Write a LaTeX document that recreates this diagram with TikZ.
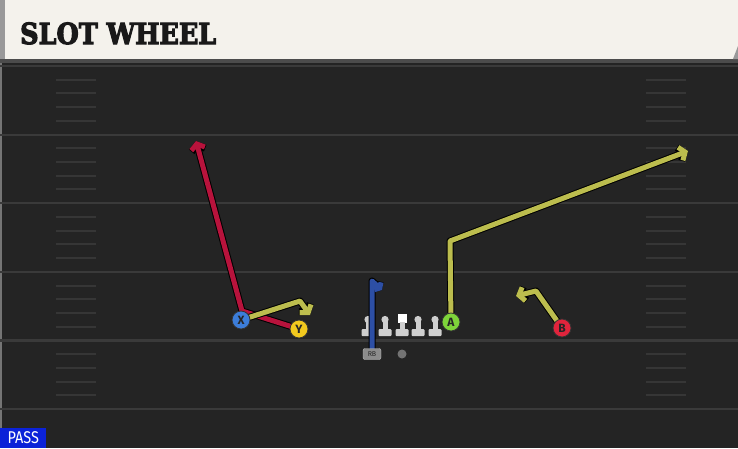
\documentclass[tikz,border=0pt]{standalone}
\usepackage{fontspec}
\setmainfont{Fira Sans}
\newfontfamily\titlefont{DejaVu Serif}[UprightFont={* Bold},UprightFeatures={FakeBold=4}]
\usetikzlibrary{arrows.meta}
\definecolor{field}{HTML}{242424}
\definecolor{paper}{HTML}{F4F2EC}
\definecolor{yardgrey}{HTML}{3A3A3A}
\definecolor{hashgrey}{HTML}{363636}
\definecolor{rtred}{HTML}{B8133C}
\definecolor{rtyel}{HTML}{BCBD4E}
\definecolor{rtblue}{HTML}{2D4FA5}
\definecolor{pblue}{HTML}{3C7DD9}
\definecolor{pyel}{HTML}{F2C91E}
\definecolor{pgreen}{HTML}{7ED43A}
\definecolor{pred}{HTML}{E0243C}
\definecolor{passblue}{HTML}{0B22D8}
\definecolor{lineman}{HTML}{CFCFCF}

\begin{document}
\begin{tikzpicture}[x=1pt,y=-1pt,
  yard/.style={draw=yardgrey,line width=2.2pt},
  hash/.style={draw=hashgrey,line width=2pt},
  route/.style={line width=5pt,line join=round,-{Straight Barb[length=5pt,width=14pt]},
    preaction={draw=black,line join=round,line width=7pt}},
  player/.style={draw=black!80,line width=0.8pt,circle,minimum size=18pt,inner sep=0pt,
    font=\bfseries\fontsize{12}{12}\selectfont,text=black!85}]
  \useasboundingbox (0,0) rectangle (738,448);
  % field and title bar
  \fill[field] (0,0) rectangle (738,448);
  \draw[yardgrey!70,line width=1.5pt] (1,63) -- (1,448);
  \fill[black!70] (0,59) rectangle (738,63);
  \fill[paper] (0,0) rectangle (738,59);
  \fill[black!40] (0,0) rectangle (5,59);
  \fill[black!40] (738,46) -- (738,59) -- (733,59) -- cycle;
  \node[anchor=base west,inner sep=0pt,text=black!90,xscale=0.88,
    font=\titlefont\fontsize{29}{29}\selectfont] (title) at (20,44) {SLOT WHEEL};
  % yard lines and hashes
  \foreach \k in {0,...,5}
    \draw[yard] (0,{66+68.6*\k}) -- (738,{66+68.6*\k});
  \foreach \k in {0,...,4}
    \foreach \j in {1,...,4} {
      \draw[hash] (56,{66+68.6*\k+13.72*\j}) -- (96,{66+68.6*\k+13.72*\j});
      \draw[hash] (646,{66+68.6*\k+13.72*\j}) -- (686,{66+68.6*\k+13.72*\j});
    }
  % line
  \foreach \x in {368,385,418,435} {
    \fill[lineman] (\x,319.5) circle (3.6);
    \fill[lineman] (\x-2.5,320) rectangle (\x+2.5,331);
    \fill[lineman,rounded corners=1] (\x-6.5,329) rectangle (\x+6.5,336);
  }
  \fill[white] (397.5,313.5) rectangle (406.5,322.5);
  \fill[lineman] (399.5,322) rectangle (404.5,331);
  \fill[lineman,rounded corners=1] (395.5,329) rectangle (408.5,336);
  % players
  \coordinate (X) at (241,320);
  \coordinate (Y) at (299,329);
  \coordinate (A) at (451,322);
  \coordinate (B) at (562,328);
  \coordinate (RB) at (372,354);
  \coordinate (xc) at (300,301);  \coordinate (xt) at (310,315);
  \coordinate (yc) at (242,311);  \coordinate (yt) at (196,141);
  \coordinate (ac) at (450,241);  \coordinate (at) at (688,151);
  \coordinate (bc) at (536,291);  \coordinate (bt) at (516,296);
  \coordinate (rc) at (372,281);  \coordinate (rt) at (382,290);
  % routes
  \draw[route,rtred] (Y) -- (yc) -- (yt);
  \draw[route,rtyel] (X) -- (xc) -- (xt);
  \draw[route,rtyel] (A) -- (ac) -- (at);
  \draw[route,rtyel] (B) -- (bc) -- (bt);
  \draw[route,rtblue,-{Straight Barb[length=3pt,width=10pt]}] (RB) -- (rc) -- (rt);
  \node[player,fill=pblue] (x) at (X) {X};
  \node[player,fill=pyel] (y) at (Y) {Y};
  \node[player,fill=pgreen] (a) at (A) {A};
  \node[player,fill=pred] (b) at (B) {B};
  \node[draw=black!25,fill=black!45,rounded corners=2pt,minimum width=18pt,minimum height=11pt,
    inner sep=0pt,text=black!85,font=\fontsize{7}{7}\selectfont] (rb) at (RB) {RB};
  \node[circle,fill=black!55,minimum size=9pt,inner sep=0pt] (qb) at (402,354) {};
  % play type
  \node[anchor=south west,fill=passblue,text=white,inner sep=0pt,minimum width=46pt,minimum height=20pt,
    font=\fontsize{17}{17}\selectfont] (pass) at (0,448) {\scalebox{0.85}[1]{PASS}};
\end{tikzpicture}
\end{document}
